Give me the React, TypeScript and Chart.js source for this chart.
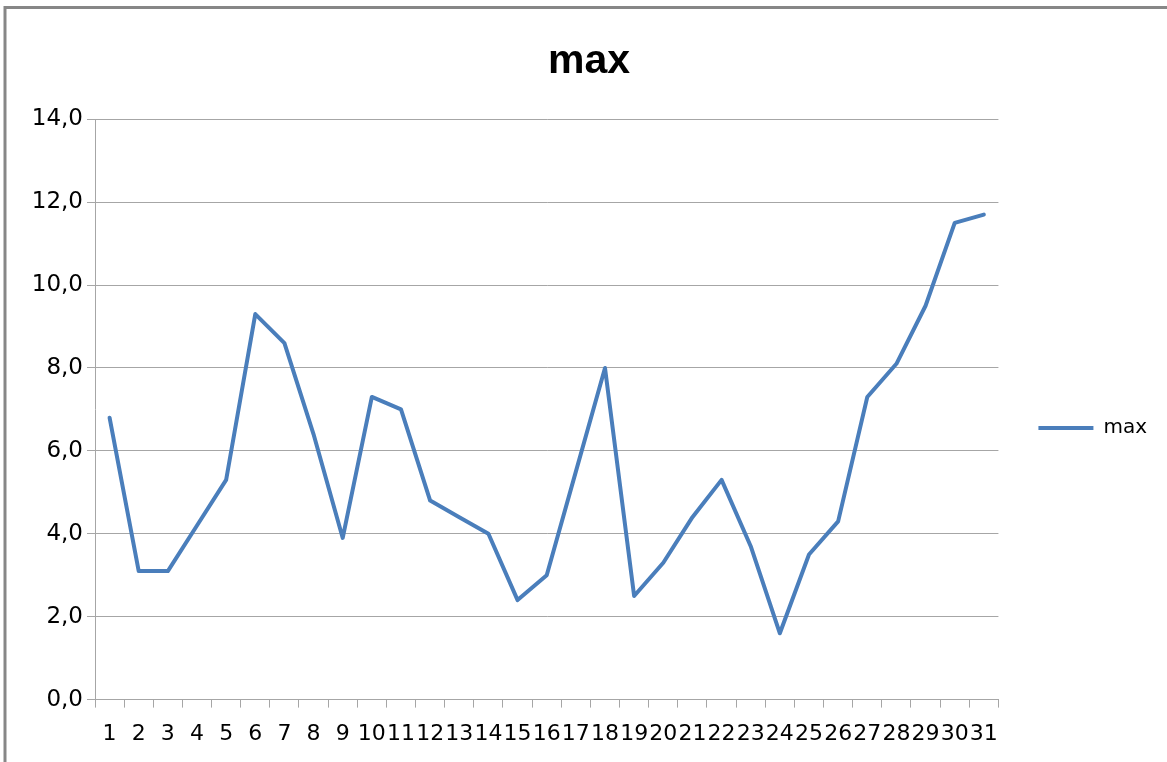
import React, { useEffect, useRef } from "react";
import { Chart, registerables } from "chart.js";

Chart.register(...registerables);

const categories: string[] = [
  "1", "2", "3", "4", "5", "6", "7", "8", "9", "10",
  "11", "12", "13", "14", "15", "16", "17", "18", "19", "20",
  "21", "22", "23", "24", "25", "26", "27", "28", "29", "30", "31",
];

const maxValues: number[] = [
  6.8, 3.1, 3.1, 4.2, 5.3, 9.3, 8.6, 6.4, 3.9, 7.3,
  7.0, 4.8, 4.4, 4.0, 2.4, 3.0, 5.5, 8.0, 2.5, 3.3,
  4.4, 5.3, 3.7, 1.6, 3.5, 4.3, 7.3, 8.1, 9.5, 11.5, 11.7,
];

const seriesLabel = "max";
const chartTitle = "max";
const yMin = 0;
const yMax = 14;
const yStep = 2;

const LINE_COLOR = "#4a7ebb";
const GRID_COLOR = "#a6a6a6";
const TEXT_FONT = "'DejaVu Sans', sans-serif";

const framePlugin = {
  id: "frame",
  beforeDraw(chart: any) {
    const ctx = chart.ctx;
    ctx.save();
    ctx.fillStyle = "#ffffff";
    ctx.fillRect(0, 0, chart.width, chart.height);
    ctx.strokeStyle = "#878787";
    ctx.lineWidth = 3;
    ctx.strokeRect(5, 7.5, chart.width + 50, chart.height + 50);
    ctx.restore();
  },
};

export default function App() {
  const canvasRef = useRef<HTMLCanvasElement | null>(null);

  useEffect(() => {
    const canvas = canvasRef.current;
    if (!canvas) return;
    const chart = new Chart(canvas, {
      type: "line",
      data: {
        labels: categories,
        datasets: [
          {
            label: seriesLabel,
            data: maxValues,
            borderColor: LINE_COLOR,
            backgroundColor: LINE_COLOR,
            borderWidth: 4,
            pointRadius: 0,
            pointHoverRadius: 0,
            tension: 0,
            borderJoinStyle: "round",
            borderCapStyle: "round",
          },
        ],
      },
      options: {
        responsive: false,
        animation: false,
        devicePixelRatio: 1,
        layout: { padding: { left: 21, right: 10, top: 0, bottom: 2 } },
        plugins: {
          title: {
            display: true,
            text: chartTitle,
            color: "#000000",
            font: { family: "'Liberation Sans', Arial, sans-serif", size: 41, weight: "bold", lineHeight: 1.2 },
            padding: { top: 37, bottom: 33 },
          },
          legend: {
            display: true,
            position: "right",
            fullSize: false,
            title: { display: true, text: " ", font: { size: 10, lineHeight: 1.2 }, padding: { top: 12, bottom: 13 } },
            labels: {
              usePointStyle: true,
              pointStyle: "line",
              pointStyleWidth: 55,
              padding: 40,
              color: "#000000",
              font: { family: TEXT_FONT, size: 20 },
            },
          },
          tooltip: { enabled: false },
        },
        scales: {
          x: {
            type: "category",
            offset: true,
            grid: {
              offset: true,
              drawOnChartArea: false,
              drawTicks: true,
              tickLength: 8,
              color: GRID_COLOR,
            },
            border: { display: true, color: GRID_COLOR },
            ticks: {
              autoSkip: false,
              maxRotation: 0,
              minRotation: 0,
              padding: 13,
              color: "#000000",
              font: { family: TEXT_FONT, size: 22 },
            },
          },
          y: {
            min: yMin,
            max: yMax,
            afterFit: (scale: any) => {
              scale.width = 74;
            },
            grid: {
              color: GRID_COLOR,
              drawTicks: true,
              tickLength: 8,
            },
            border: { display: true, color: GRID_COLOR },
            ticks: {
              stepSize: yStep,
              padding: 4,
              color: "#000000",
              font: { family: TEXT_FONT, size: 23 },
              callback: (v: any) => Number(v).toFixed(1).replace(".", ","),
            },
          },
        },
      },
      plugins: [framePlugin],
    });
    return () => chart.destroy();
  }, []);

  return (
    <div style={{ position: "absolute", left: 0, top: 0, width: 1167, height: 762, background: "#fff" }}>
      <canvas ref={canvasRef} width={1167} height={762} style={{ display: "block", width: 1167, height: 762 }} />
    </div>
  );
}
